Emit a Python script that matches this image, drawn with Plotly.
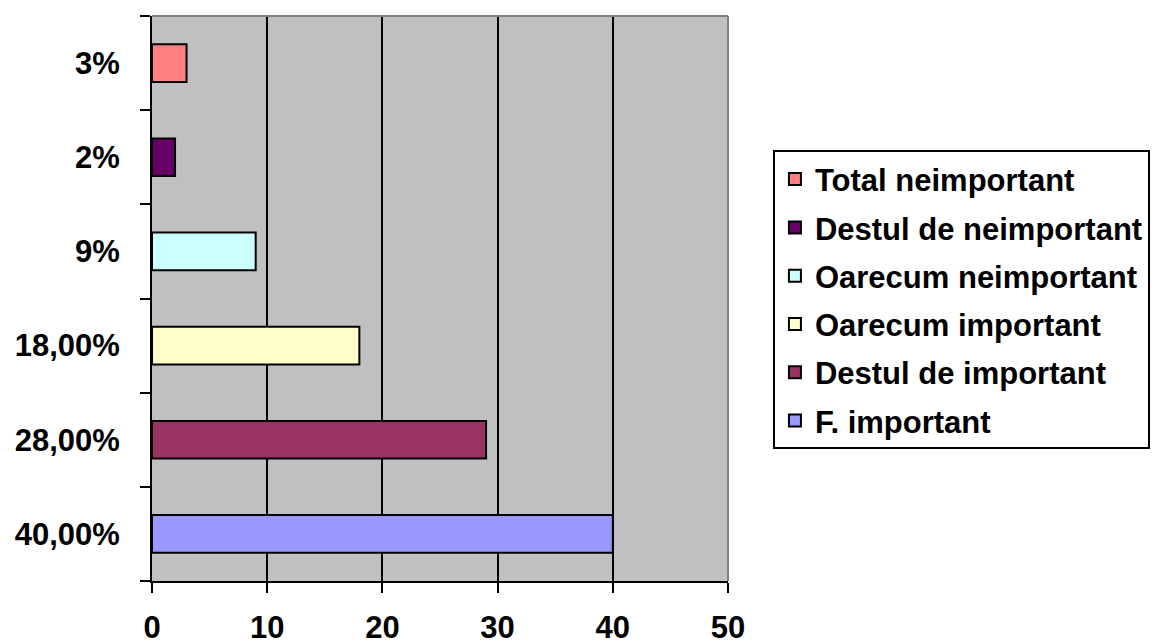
import plotly.graph_objects as go

categories = ["40,00%", "28,00%", "18,00%", "9%", "2%", "3%"]
series_names = ["F. important", "Destul de important", "Oarecum important",
                "Oarecum neimportant", "Destul de neimportant", "Total neimportant"]
values = [40, 29, 18, 9, 2, 3]
colors = ["#9999FF", "#993366", "#FFFFCC", "#CCFFFF", "#660066", "#FF8080"]
x_ticks = [0, 10, 20, 30, 40, 50]

FONT = "Liberation Sans, Arial, sans-serif"

fig = go.Figure()
# add in reverse so legend lists "Total neimportant" first
for i in reversed(range(len(series_names))):
    fig.add_trace(go.Bar(
        x=[values[i]], y=[categories[i]], name=series_names[i], orientation="h",
        marker=dict(color=colors[i], line=dict(color="black", width=2)),
        width=0.4, legendgroup=f"g{i}",
    ))

fig.update_layout(
    width=1165, height=644,
    margin=dict(l=144, r=445, t=8, b=71, autoexpand=False),
    paper_bgcolor="white",
    plot_bgcolor="#C0C0C0",
    barmode="overlay",
    font=dict(family=FONT, size=31, color="black", weight="bold"),
    legend=dict(
        x=1.078, xanchor="left", y=0.762, yanchor="top",
        traceorder="grouped", tracegroupgap=5,
        entrywidth=345, entrywidthmode="pixels",
        bordercolor="black", borderwidth=2, bgcolor="white",
        font=dict(family=FONT, size=31, color="black", weight="bold"),
    ),
    showlegend=True,
)

fig.update_xaxes(
    range=[0, 50], tickvals=x_ticks, ticktext=[str(t) for t in x_ticks],
    showgrid=True, gridcolor="black", gridwidth=2,
    showline=True, linecolor="black", linewidth=2, mirror=False,
    ticks="outside", ticklen=10, tickwidth=2, tickcolor="black",
    ticklabelstandoff=8, zeroline=False, automargin=False,
    tickfont=dict(family=FONT, size=31, weight="bold"),
)
fig.update_yaxes(
    categoryorder="array", categoryarray=categories,
    showgrid=False, showline=True, linecolor="black", linewidth=2,
    ticks="outside", ticklen=10, tickwidth=2, tickcolor="black",
    tickson="boundaries", ticklabelstandoff=24, automargin=False,
    tickfont=dict(family=FONT, size=31, weight="bold"),
)

# gray border on top and right of plot area
fig.add_shape(type="line", xref="paper", yref="paper", x0=0, x1=1, y0=1, y1=1,
              line=dict(color="#808080", width=2))
fig.add_shape(type="line", xref="paper", yref="paper", x0=1, x1=1, y0=0, y1=1,
              line=dict(color="#808080", width=2))

fig.write_html("out.html")
